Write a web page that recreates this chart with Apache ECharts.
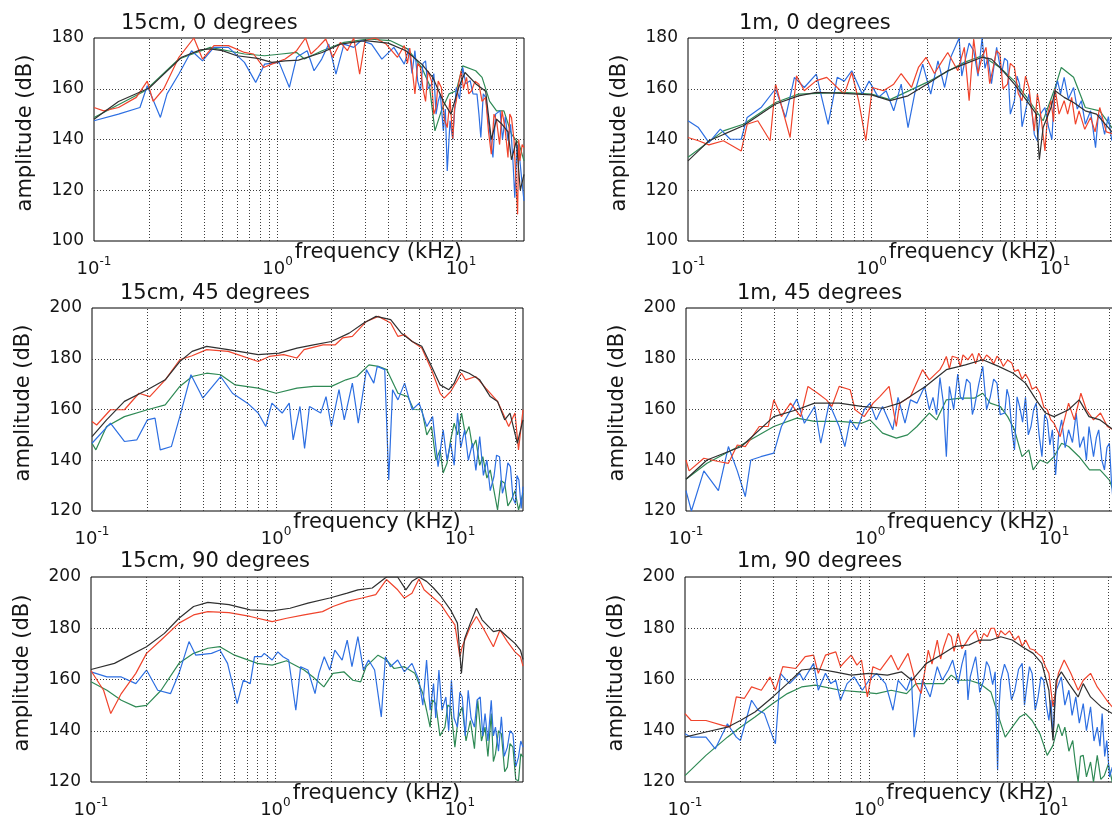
<!DOCTYPE html>
<html>
<head>
<meta charset="utf-8">
<title>Amplitude spectra</title>
<script src="https://cdn.jsdelivr.net/npm/echarts@6/dist/echarts.min.js"></script>
<style>
  html, body { margin: 0; padding: 0; background: #fff; }
  #chart { width: 1112px; height: 818px; }
</style>
</head>
<body>
<div id="chart"></div>
<script>
// ---- Data: [frequency (kHz), amplitude (dB)] ----
const panelTitles = ['15cm, 0 degrees', '1m, 0 degrees', '15cm, 45 degrees', '1m, 45 degrees', '15cm, 90 degrees', '1m, 90 degrees'];
const yMins = [100, 100, 120, 120, 120, 120];
const yMaxs = [180, 180, 200, 200, 200, 200];
const freqMin = 0.1;
const freqMax = 22;
const gridFreqs = [0.2, 0.3, 0.4, 0.5, 0.6, 0.7, 0.8, 0.9, 1, 2, 3, 4, 5, 6, 7, 8, 9, 10, 20];

// 15cm, 0 degrees
const p1Red = [[0.1,152.6],[0.113,151.3],[0.136,152.6],[0.17,156.6],[0.195,163],[0.21,155],[0.24,160],[0.29,172.4],[0.35,180],[0.39,171.7],[0.45,177],[0.54,177],[0.66,174.3],[0.74,173.7],[0.84,168.4],[0.93,169.7],[1.1,171.7],[1.27,175],[1.42,180],[1.52,173.7],[1.66,176.3],[1.83,179.6],[2.0,172.4],[2.2,178.3],[2.4,175],[2.6,180],[2.8,165.8],[3.0,179],[3.4,180],[3.9,177.6],[4.5,172.4],[4.9,177],[5.1,170],[5.25,176],[5.4,168.4],[5.6,158],[5.8,170],[6.0,168.4],[6.2,160],[6.4,155],[6.6,167],[6.9,163],[7.1,150],[7.3,152.6],[7.5,163],[7.8,160.5],[8.1,148],[8.4,144.7],[8.7,156],[9.0,140.1],[9.2,152],[9.4,155],[9.7,162],[10,167],[10.3,160],[10.7,164.5],[11,158],[11.4,159.2],[11.9,163],[12.5,161.8],[13,155],[13.6,156.6],[14.1,143],[14.6,134.2],[15.1,150],[15.6,147.4],[16.2,138],[16.7,151.3],[17.3,145],[18,132.9],[18.4,150],[18.8,148.7],[19.4,140],[20.3,110.5],[20.6,140],[20.9,131.6],[21.5,138],[22,136.8]];
const p1Blue = [[0.1,147.4],[0.136,150],[0.178,152.6],[0.195,161.2],[0.23,148.7],[0.25,158],[0.29,165.8],[0.34,175],[0.39,171],[0.45,176.3],[0.54,176.3],[0.66,170.4],[0.76,162.5],[0.85,169.7],[1.02,170.4],[1.16,160.5],[1.27,172.4],[1.45,175],[1.58,167.1],[1.74,171.7],[1.9,177.6],[2.08,165.8],[2.3,177.6],[2.6,176.3],[2.85,179],[3.25,177.6],[3.7,171.7],[4.3,176.3],[4.9,169.7],[5.2,176],[5.4,166],[5.6,175],[5.8,163],[6.0,159.2],[6.2,170],[6.4,171],[6.6,160],[6.9,161.8],[7.1,166],[7.3,150],[7.5,155],[7.7,158],[8.0,143.4],[8.2,152],[8.4,127.6],[8.7,147.4],[9.0,140],[9.4,160.5],[9.8,156],[10.2,168.4],[10.6,162],[11.2,163.2],[11.6,158],[12.2,157.9],[12.5,150],[12.8,140.8],[13.2,158],[13.6,156.6],[14.2,145],[14.9,132.9],[15.4,150],[16.3,151.3],[16.8,140],[17.4,149],[18,139.5],[18.6,146],[19.2,130],[19.6,117.1],[20.2,138],[20.9,131.6],[21.4,124],[22,115.8]];
const p1Green = [[0.1,148.7],[0.19,159.2],[0.29,171.7],[0.43,176.3],[0.66,173.7],[0.85,173],[1.05,173.7],[1.27,174.3],[1.4,171.7],[1.75,175],[2.3,178.3],[3.1,179.6],[4.1,179],[5.1,175.7],[6.1,168.4],[6.7,161.8],[7.2,143.4],[7.8,151.3],[8.6,158],[9.4,159.2],[10.2,169],[12,167.1],[13,164.5],[14.3,155],[15.6,151.3],[17.1,151.3],[18.8,142.1],[20.7,138.2],[22,131.6]];
const p1Black = [[0.1,148],[0.136,155],[0.2,160.3],[0.23,164.5],[0.3,172.4],[0.38,175.3],[0.43,175.7],[0.5,175],[0.6,173],[0.78,172],[0.93,170.4],[1.1,171],[1.3,171.3],[1.75,174.3],[2.2,177.6],[3.0,179],[4.0,178],[5.0,175],[6.1,169.7],[7.0,164.5],[8.0,155],[8.8,150],[9.7,160.5],[10.5,166.4],[12,162],[13.6,159],[14.6,140],[15.6,148],[16.7,146],[18,143],[18.8,132],[20,139.5],[21,120],[22,126.3]];

// 1m, 0 degrees
const p2Red = [[0.1,140.8],[0.114,139.5],[0.13,137.9],[0.156,139.5],[0.195,135.5],[0.21,146],[0.24,147.4],[0.28,139.5],[0.3,161.8],[0.36,140.8],[0.39,165.1],[0.43,159.2],[0.5,163.2],[0.57,164.5],[0.65,160.5],[0.71,157.9],[0.78,166.4],[0.85,155.3],[0.93,139.5],[1.01,160.5],[1.16,159.2],[1.32,161.8],[1.45,166],[1.65,160.5],[1.8,168.4],[1.98,172.4],[2.2,166],[2.4,170.4],[2.6,174.3],[2.95,167.1],[3.2,176.3],[3.4,155.3],[3.6,179.6],[3.8,166],[3.95,171],[4.2,176.3],[4.4,162],[4.6,168.4],[4.8,175],[5.0,173.7],[5.2,160],[5.5,161.8],[5.7,170],[6.0,168.4],[6.3,158],[6.6,155.3],[6.9,165],[7.2,160.5],[7.5,150],[7.7,143.4],[8.0,158],[8.2,154],[8.5,145],[8.8,135.5],[9.1,150],[9.5,155.3],[9.8,147],[10,159.9],[10.5,150],[11.2,155.3],[11.7,150],[12.3,156.6],[12.9,146],[13.5,151.3],[14.5,144],[15.6,148.7],[16.5,143],[17.5,152.6],[19,143],[21,142]];
const p2Blue = [[0.1,147.4],[0.114,144.7],[0.13,138.8],[0.15,144.1],[0.17,140.1],[0.195,140.1],[0.21,148.7],[0.25,152.6],[0.3,160],[0.34,148.7],[0.38,164.5],[0.43,160.5],[0.5,165.8],[0.54,155.3],[0.58,146],[0.65,164.5],[0.71,163],[0.78,167.1],[0.89,157.9],[0.97,163],[1.09,156.6],[1.2,159.2],[1.32,151.3],[1.45,161.8],[1.58,144.7],[1.73,159.2],[1.9,169.7],[2.1,157.9],[2.3,171],[2.5,160.5],[2.7,172.4],[3.0,180],[3.1,165],[3.2,169.7],[3.4,178],[3.6,175],[3.8,165],[4.0,180],[4.15,168],[4.3,172.4],[4.5,162],[4.8,176.3],[5.1,165.8],[5.3,172],[5.5,171],[5.7,150],[6.0,155.3],[6.2,165],[6.4,161.8],[6.6,145],[6.9,151.3],[7.2,158],[7.5,150],[7.7,142],[8.0,139.5],[8.3,150],[8.8,152.6],[9.2,145],[9.6,140],[9.9,158],[10.3,163.2],[10.7,158],[11.2,164.5],[11.8,156],[12.6,160.5],[13.2,152],[13.9,155.3],[14.6,146],[15.6,151.3],[16.6,136.8],[17.2,150],[17.8,148.7],[18.6,142],[19.5,149],[20.3,140],[21,138.2]];
const p2Green = [[0.1,133],[0.156,143.4],[0.2,146],[0.3,154.6],[0.4,157.9],[0.7,158.6],[1.0,157.9],[1.26,155.7],[2.0,162.5],[3.2,170.4],[4.0,173],[5.0,168.4],[6.0,163],[7.0,156.6],[8.6,147.4],[10,160.5],[10.8,168.4],[12.6,164.5],[14.6,152.6],[17.5,151.3],[21,143.4]];
const p2Black = [[0.1,131.6],[0.114,135.5],[0.13,139.5],[0.156,142],[0.2,145.4],[0.24,149.3],[0.3,154],[0.4,157.2],[0.5,158.6],[0.7,158.2],[1.0,157.6],[1.26,155.3],[1.58,157.2],[2.0,161.8],[2.6,167.1],[3.2,169.7],[4.0,172.4],[4.5,171.7],[5.0,168.4],[6.0,161.8],[7.0,155.3],[7.9,150],[8.2,132],[8.6,144.7],[9.5,152.6],[10,159.2],[11.2,156.6],[12.6,154.6],[14.6,151.3],[16.8,150],[21,142]];

// 15cm, 45 degrees
const p3Red = [[0.1,155.3],[0.106,153.9],[0.126,159.9],[0.15,159.9],[0.18,166.4],[0.206,165.1],[0.25,171.7],[0.3,179.6],[0.35,181.2],[0.42,183.6],[0.55,182.9],[0.8,178.9],[0.92,180.9],[1.1,181.6],[1.3,180.3],[1.42,183.6],[1.8,185.5],[2.1,185.5],[2.3,188.2],[2.6,188.8],[3.1,194.7],[3.6,196.7],[4.2,194.1],[4.6,188.8],[5.0,189.5],[5.5,186.8],[6.2,184.2],[7.0,175.7],[7.8,166.4],[8.2,164.5],[8.9,167.1],[10.2,174.3],[10.7,171.7],[12.2,173],[13.8,168.4],[16,163.2],[17.1,158.6],[18.4,153.3],[19.9,158.6],[20.8,144.1],[22,159.9]];
const p3Blue = [[0.1,146.7],[0.126,154.6],[0.15,147.4],[0.175,148],[0.2,155.9],[0.22,156.6],[0.235,144.1],[0.27,145.4],[0.3,157.2],[0.345,173.7],[0.4,164.5],[0.5,173],[0.58,166.4],[0.7,162.5],[0.8,158.6],[0.88,153.3],[0.95,162.5],[1.08,158.6],[1.18,162.5],[1.24,148],[1.35,161.2],[1.43,144.7],[1.52,161.2],[1.75,158.6],[1.87,165.1],[2.0,153.3],[2.2,167.8],[2.35,155.9],[2.6,170.4],[2.8,154.6],[3.1,175.7],[3.4,170.4],[3.55,177],[3.9,175.7],[4.1,132.2],[4.3,167.8],[4.6,163.8],[5.0,170.4],[5.5,159.9],[6.0,162.5],[6.6,153.3],[7.1,157.2],[7.6,137.5],[8.1,152],[8.5,140],[8.9,146.7],[9.3,138],[9.7,158.6],[10.1,145],[10.6,152],[11.1,140],[11.7,146.7],[12.2,136],[12.8,149.3],[13.4,134],[14,140.1],[14.6,128],[15.3,133.6],[15.8,142],[16.4,141.4],[17,127],[17.6,130.9],[18.2,139],[18.8,137.5],[19.4,125],[20,123],[20.4,134],[20.9,132.2],[21.5,121],[22,129.6]];
const p3Green = [[0.1,146.7],[0.105,144.1],[0.12,153.3],[0.15,157.2],[0.2,159.9],[0.25,161.8],[0.3,169.1],[0.35,173],[0.42,174.3],[0.5,173.7],[0.6,169.7],[0.8,168.4],[1.0,166.4],[1.3,168.4],[1.6,169.1],[2.0,169.1],[2.4,171.7],[2.75,173],[3.2,177.6],[3.6,177],[4.0,175.7],[4.6,166.4],[5.2,165.1],[5.6,160],[6.2,159.9],[6.6,150],[7.0,153.3],[7.4,140],[7.8,144.1],[8.1,135],[8.5,138.8],[8.9,148],[9.3,154.6],[9.7,150],[10.2,158.6],[10.7,150],[11.2,153.3],[11.7,145],[12.2,148],[12.8,138],[13.3,141.4],[14,133],[14.6,136.2],[15.3,128],[16,120.4],[16.7,132],[17.5,130.9],[18.2,122],[19,124.3],[19.9,128],[20.8,120.4],[22,127]];
const p3Black = [[0.1,149.3],[0.12,155.9],[0.15,163.2],[0.2,167.8],[0.25,171.7],[0.3,178.9],[0.35,182.9],[0.42,184.9],[0.55,183.6],[0.8,181.6],[1.04,182.2],[1.3,184.2],[1.6,185.5],[2.0,186.8],[2.5,190.1],[3.0,194.1],[3.5,196.7],[4.2,195.4],[4.8,190.1],[5.5,186.8],[6.2,184.9],[7.0,177],[7.8,169.7],[8.7,167.8],[9.3,170.4],[10,175.7],[11.2,174.3],[12.8,171.7],[14.6,165.1],[16,163.2],[17.5,155.9],[18.7,158.6],[20.5,146.7],[22,155.9]];

// 1m, 45 degrees
const p4Red = [[0.1,140.1],[0.104,135.8],[0.125,140.8],[0.15,139.5],[0.17,138.8],[0.19,146],[0.21,145.4],[0.25,153.3],[0.28,153.3],[0.3,163.8],[0.33,157.2],[0.37,162.5],[0.42,157.2],[0.46,169.1],[0.52,166.4],[0.58,163.8],[0.62,161.2],[0.68,169.1],[0.78,167.8],[0.83,159.9],[0.93,157.2],[1.04,162.5],[1.13,165.1],[1.27,169.1],[1.39,153.3],[1.45,162.5],[1.66,165.1],[1.93,175.7],[2.1,171.7],[2.4,175.7],[2.5,178],[2.6,180.9],[2.7,176],[2.8,181],[3.0,180.3],[3.1,177],[3.2,181.5],[3.4,179.6],[3.6,182],[3.75,178],[3.9,182.2],[4.1,179],[4.3,181.5],[4.5,180.3],[4.7,178],[4.9,181],[5.1,179.6],[5.3,177],[5.6,179.5],[5.9,178.3],[6.1,175],[6.4,175.7],[6.7,172],[7.0,174],[7.3,171.7],[7.6,168],[8.0,169],[8.4,166.4],[8.8,161],[9.2,159.9],[9.6,156],[10,154.6],[10.8,149.3],[12,162.5],[12.9,155.9],[14,166.4],[15,159.9],[16.4,155.9],[17.9,158.6],[19.5,153.3],[21,152]];
const p4Blue = [[0.1,128],[0.107,120],[0.125,135.8],[0.15,128],[0.17,145.4],[0.19,135.8],[0.21,125.7],[0.225,140.1],[0.255,141.4],[0.3,142.8],[0.33,153.3],[0.4,164.1],[0.44,154.6],[0.5,161.2],[0.54,146.7],[0.6,162.5],[0.68,153.3],[0.73,145.4],[0.78,155.9],[0.85,152],[0.93,159.9],[1.0,162.5],[1.08,155.9],[1.17,161.2],[1.33,152],[1.42,164.8],[1.55,154.6],[1.66,163.8],[1.8,162.5],[1.98,169.1],[2.1,160],[2.2,164.8],[2.3,158],[2.4,172.6],[2.5,163],[2.6,141.4],[2.7,169.1],[2.85,160],[3.0,174],[3.1,165],[3.2,163.8],[3.35,172],[3.5,170.4],[3.6,158],[3.7,161.2],[3.9,170],[4.1,177],[4.3,160],[4.5,164.8],[4.7,172],[4.9,170.4],[5.1,158],[5.4,158.6],[5.55,168],[5.7,164.8],[5.9,152],[6.1,144.1],[6.3,165],[6.5,161.2],[6.75,155],[7.0,164.8],[7.25,150],[7.5,153.3],[7.75,160],[8.0,162.5],[8.3,150],[8.6,141.4],[8.9,158],[9.2,155.9],[9.5,146],[9.8,152],[10.2,134.2],[10.6,150],[11,155.9],[11.5,145],[12,152],[12.6,147],[13.2,158.6],[13.8,145],[14.5,149.3],[15.0,140],[15.5,153.3],[16.4,141.4],[17,149],[17.5,152],[18.2,140],[18.8,136.2],[19.4,145],[20,146.7],[20.5,132],[21,123]];
const p4Green = [[0.1,132.5],[0.13,138.8],[0.2,146],[0.3,153.3],[0.4,156.6],[0.5,155.3],[0.68,155.3],[0.9,154.6],[1.0,155.9],[1.17,150.7],[1.39,148.7],[1.6,150],[1.8,153.3],[2.1,158.6],[2.3,155.9],[2.6,163.8],[3.1,164.5],[3.7,164.5],[4.1,166.4],[4.5,162.5],[5.1,161.2],[5.6,157.2],[6.1,152],[6.7,141.4],[7.3,144.1],[7.7,136.2],[8.4,140.1],[9.2,138.8],[10,141.4],[11,146.7],[12,145.4],[13.7,141.4],[15.6,136.2],[17.8,136.2],[20,132.2],[21,128]];
const p4Black = [[0.1,132.5],[0.13,140.1],[0.2,145.4],[0.3,157.2],[0.4,159.9],[0.5,162.5],[0.68,162.5],[0.9,161.2],[1.17,160.5],[1.45,162.5],[2.0,169.1],[2.6,175.7],[3.3,177.6],[4.1,179.6],[5.0,177],[6.0,174.3],[7.0,170.4],[8.0,163.8],[9.0,158.6],[10,157.2],[12,159.9],[13.7,163.8],[15.5,157.2],[17.8,155.9],[21,152]];

// 15cm, 90 degrees
const p5Red = [[0.1,163.4],[0.117,155.8],[0.128,146.7],[0.146,154.5],[0.175,162.4],[0.2,170.2],[0.24,175.4],[0.3,182],[0.36,185.2],[0.43,186.5],[0.56,186.1],[0.73,184.6],[0.96,182.6],[1.15,183.9],[1.43,185.2],[1.8,186.5],[2.05,188.5],[2.45,190.5],[2.95,191.8],[3.5,193.1],[4.0,199],[4.6,195],[5.0,191.8],[5.5,193.7],[6.0,199.2],[6.4,195],[7.2,191.8],[7.9,189.2],[8.6,185.2],[9.4,181.3],[10,168.9],[10.3,172.8],[11.4,180.7],[12.3,184.6],[13.4,180],[15.2,172.8],[16.5,179.3],[18.1,174.8],[19.9,170.8],[21.3,168.9],[22,165.2]];
const p5Blue = [[0.1,163],[0.122,161],[0.146,161],[0.175,158.4],[0.2,163.7],[0.23,155.8],[0.27,154.5],[0.3,162.4],[0.34,174.8],[0.37,169.5],[0.45,170.2],[0.5,171.5],[0.55,166.3],[0.62,150.6],[0.67,159.7],[0.73,158.4],[0.77,168.9],[0.84,168.9],[0.87,170.2],[0.96,167.6],[1.03,170.8],[1.1,168.9],[1.18,167.6],[1.29,148],[1.37,165],[1.5,163.7],[1.64,154.5],[1.72,162.4],[1.84,168.9],[1.97,163.7],[2.1,171.5],[2.3,167.6],[2.45,175.4],[2.6,165],[2.8,176.7],[3.0,163.7],[3.2,167.6],[3.45,163.7],[3.75,145.4],[3.95,168.9],[4.2,165],[4.6,167.6],[5.0,163],[5.5,166.3],[6.0,159.7],[6.3,150],[6.6,167.6],[6.9,148],[7.2,158.4],[7.4,145],[7.7,163.7],[8.0,148],[8.4,153.2],[8.7,140],[9.0,159.7],[9.3,145],[9.7,141.4],[10.0,155],[10.3,153.2],[10.7,138],[11.1,155.8],[11.5,145],[12,141.4],[12.4,152],[12.9,153.2],[13.3,138],[13.7,146.7],[14.2,136],[14.8,151.9],[15.2,138],[15.6,141.4],[16.2,132],[16.8,145.4],[17.4,130],[18.1,133.6],[18.7,140],[19.4,138.8],[20.1,126],[20.8,129.7],[21.4,136],[22,133.6]];
const p5Green = [[0.1,159.1],[0.122,155.8],[0.146,151.9],[0.175,149.3],[0.2,149.9],[0.24,155.8],[0.3,166.3],[0.36,170.2],[0.43,172.2],[0.5,172.8],[0.6,169.5],[0.8,166.3],[0.96,165.6],[1.15,167.3],[1.43,163.7],[1.6,161],[1.83,157.1],[2.05,162.4],[2.35,163],[2.63,159.7],[2.9,159.1],[3.1,165],[3.6,169.5],[4.0,167.6],[4.4,164.3],[5.0,165],[5.7,162.4],[6.3,154.5],[6.6,148],[6.9,141.4],[7.1,152],[7.4,150.6],[7.8,138],[8.3,141.4],[8.6,150],[8.9,149.3],[9.2,140],[9.4,133.6],[9.8,145],[10.3,149.3],[10.8,136],[11.4,144],[12,133],[12.5,151.9],[13.1,136],[13.7,141.4],[14.2,130],[14.8,146.7],[15.2,128],[15.6,131],[16.2,140],[16.8,138.8],[17.5,124],[18.1,125.8],[18.7,135],[19.4,133.6],[20.1,121],[20.8,120.5],[21.4,131],[22,129.7]];
const p5Black = [[0.1,163.9],[0.134,166.3],[0.2,172.8],[0.25,178],[0.3,183.9],[0.36,188.5],[0.43,190.1],[0.56,189.2],[0.73,187.2],[0.96,186.8],[1.2,187.8],[1.5,189.8],[1.97,191.8],[2.45,193.7],[2.8,195],[3.35,195.7],[4.0,200],[4.6,200],[5.1,195],[5.5,198.3],[6.0,200],[6.6,198.3],[7.2,195.7],[7.9,192.4],[8.9,187.2],[9.7,182],[10.2,162.4],[10.6,175.8],[11.4,182],[12.3,187.8],[13.2,183.3],[15.2,178.7],[16.5,179.3],[18.1,176.7],[19.9,174.1],[21.3,171.5],[22,167.8]];

// 1m, 90 degrees
const p6Red = [[0.1,146.7],[0.108,144],[0.13,144],[0.16,142.1],[0.176,141.4],[0.19,153.2],[0.21,152.6],[0.23,157.1],[0.26,155.8],[0.29,161],[0.31,155.8],[0.34,165],[0.4,164.3],[0.45,168.9],[0.5,169.5],[0.53,162.4],[0.58,169.5],[0.66,170.8],[0.7,165],[0.74,167],[0.8,169.5],[0.86,165.6],[0.91,167.6],[0.98,153.2],[1.05,165],[1.15,163.7],[1.32,169.5],[1.44,163.7],[1.63,170.2],[1.8,158.4],[1.92,154.5],[2.1,171.5],[2.2,166],[2.35,175.4],[2.45,168],[2.55,172.8],[2.7,178],[2.8,176.7],[2.9,171],[3.05,178],[3.2,172],[3.35,174.1],[3.55,177],[3.8,179.3],[4.0,174],[4.2,178],[4.4,176.7],[4.6,180],[4.8,180],[5.0,176],[5.2,179],[5.5,177.4],[5.8,179],[6.2,175.4],[6.5,177],[6.8,173],[7.1,175.4],[7.5,172],[7.9,171.5],[8.3,170],[8.7,168.9],[9.1,165],[9.5,162.4],[10,149.3],[10.7,162.4],[11.5,167.6],[12.5,162.4],[13.7,155.8],[14.6,159.7],[16,162.4],[17.4,157.1],[19.6,151.9],[21,149.3]];
const p6Blue = [[0.1,138.8],[0.108,137.5],[0.13,137.5],[0.146,132.9],[0.17,142.7],[0.19,137.5],[0.2,136.2],[0.23,151.9],[0.25,148],[0.27,146.7],[0.3,137.5],[0.31,134.9],[0.33,162.4],[0.37,158.4],[0.42,162.4],[0.44,159.7],[0.5,166.3],[0.53,155.8],[0.58,162.4],[0.62,158.4],[0.66,159.7],[0.7,151.9],[0.76,158.4],[0.83,161],[0.92,155.8],[1.0,159.7],[1.1,162.4],[1.23,158.4],[1.35,148],[1.44,159.7],[1.6,155.8],[1.7,161],[1.76,137.5],[1.95,159.7],[2.15,153.2],[2.35,165],[2.5,159.7],[2.7,163.7],[2.85,167.6],[3.05,158.4],[3.2,166],[3.35,171.5],[3.45,152],[3.55,161],[3.7,166],[3.8,168.9],[4.0,155],[4.2,159.7],[4.35,167],[4.5,165],[4.7,158],[4.85,163],[5.0,124.6],[5.1,150],[5.2,159.7],[5.45,166],[5.7,162.4],[5.95,152],[6.2,155.8],[6.5,164],[6.8,166.3],[7.0,150],[7.2,157.1],[7.45,165],[7.7,162.4],[8.0,148],[8.3,153.2],[8.6,161],[8.9,159.7],[9.2,150],[9.5,144],[9.75,152],[10,137.5],[10.2,150],[10.4,155.8],[10.7,158],[11.1,161],[11.6,150],[12.2,155.8],[12.7,146],[13.3,153.2],[13.9,143],[14.6,150.6],[15.2,140],[16,149.3],[16.7,136],[17.4,141.4],[18,134],[18.5,146.7],[19.1,130],[19.6,136.2],[20.3,122],[21,125.8]];
const p6Green = [[0.1,122.5],[0.13,130.4],[0.17,137.5],[0.2,141.4],[0.24,145.4],[0.3,150.6],[0.36,154.5],[0.43,157.1],[0.51,157.8],[0.7,155.8],[0.92,155.1],[1.1,154.5],[1.32,155.8],[1.6,154.5],[1.8,158.4],[2.15,158.4],[2.55,158.4],[2.8,161.7],[3.05,159.7],[3.5,159.7],[4.0,158.4],[4.6,155.1],[5.0,146.7],[5.5,137.5],[6.0,141.4],[6.6,145.4],[7.1,146.7],[7.7,144],[8.5,138.8],[9.3,130.4],[10,134.3],[10.7,142.7],[11.2,138],[11.6,141.4],[12.2,132],[12.8,136.2],[13.2,128],[13.7,120],[14.1,130],[14.6,130.4],[15.2,122],[16,127.8],[16.6,120],[17.4,130.4],[18.2,121],[19,122.5],[20,127],[21,120]];
const p6Black = [[0.1,137.5],[0.13,139.5],[0.17,141.4],[0.2,144],[0.24,147.3],[0.3,153.2],[0.36,158.4],[0.43,163.7],[0.51,164.3],[0.65,163],[0.8,161.7],[1.0,162.4],[1.26,161.7],[1.5,163],[1.71,159.7],[2.05,166.3],[2.45,169.5],[2.9,172.8],[3.5,173.5],[4.0,175.4],[4.6,175.4],[5.2,176.7],[6.0,175.4],[6.8,172.8],[7.8,170.2],[8.7,166.3],[9.5,155.8],[10,136.2],[10.4,159.7],[11.1,163],[12.2,158.4],[13.7,153.2],[14.6,158.4],[16,153.2],[18.3,149.3],[21,146.7]];

const panelSeries = [
  { red: p1Red, blue: p1Blue, green: p1Green, black: p1Black },
  { red: p2Red, blue: p2Blue, green: p2Green, black: p2Black },
  { red: p3Red, blue: p3Blue, green: p3Green, black: p3Black },
  { red: p4Red, blue: p4Blue, green: p4Green, black: p4Black },
  { red: p5Red, blue: p5Blue, green: p5Green, black: p5Black },
  { red: p6Red, blue: p6Blue, green: p6Green, black: p6Black }
];

// ---- Layout and styling ----
const FONT = 'DejaVu Sans';
const TEXT = '#151515';
const GRIDLINE = '#3c3c3c';
const COLORS = { green: '#2f8a55', blue: '#2d6fe2', red: '#f0442c', black: '#303030' };
const DRAW_ORDER = ['green', 'blue', 'red', 'black'];

const boxes = [
  { left: 94,  top: 38,  width: 430, height: 203 },
  { left: 688, top: 38,  width: 430, height: 203 },
  { left: 92,  top: 308, width: 431, height: 203 },
  { left: 686, top: 308, width: 431, height: 203 },
  { left: 91,  top: 577, width: 432, height: 205 },
  { left: 685, top: 577, width: 431, height: 205 }
];
const titlePos = [
  { left: 121, top: 13 }, { left: 739, top: 13 },
  { left: 120, top: 283 }, { left: 737, top: 283 },
  { left: 120, top: 551 }, { left: 737, top: 551 }
];

function decadeLabel(v) {
  const e = Math.log10(v);
  const r = Math.round(e);
  if (Math.abs(e - r) > 1e-6) return '';
  return '{b|10}{s|' + r + '}';
}

const grids = [], xAxes = [], yAxes = [], series = [], titles = [];

boxes.forEach((b, i) => {
  grids.push({
    left: b.left, top: b.top, width: b.width, height: b.height,
    show: true, borderColor: '#000', borderWidth: 1, backgroundColor: '#fff',
    containLabel: false, outerBoundsMode: 'none'
  });
  xAxes.push({
    type: 'log', logBase: 10, gridIndex: i, min: freqMin, max: freqMax,
    axisLine: { show: false }, axisTick: { show: false },
    splitLine: { show: false },
    axisLabel: {
      show: true, margin: 15, interval: 0, formatter: decadeLabel, hideOverlap: false,
      color: TEXT, fontFamily: FONT,
      rich: {
        b: { fontSize: 18, fontFamily: FONT, color: TEXT, lineHeight: 22, verticalAlign: 'bottom' },
        s: { fontSize: 12, fontFamily: FONT, color: TEXT, lineHeight: 6, verticalAlign: 'top' }
      }
    },
    name: 'frequency (kHz)', nameLocation: 'middle', nameGap: 1, nameMoveOverlap: false,
    nameTextStyle: { fontSize: 21, fontFamily: FONT, color: TEXT, padding: [0, 0, 0, 139] }
  });
  yAxes.push({
    type: 'value', gridIndex: i, min: yMins[i], max: yMaxs[i], interval: 20,
    axisLine: { show: false }, axisTick: { show: false },
    splitLine: { show: true, showMinLine: false, showMaxLine: false, lineStyle: { color: GRIDLINE, width: 1, type: [1, 2] } },
    axisLabel: { margin: 10, fontSize: 17, fontFamily: FONT, color: TEXT },
    name: 'amplitude (dB)', nameLocation: 'middle', nameGap: 58, nameRotate: 90, nameMoveOverlap: false,
    nameTextStyle: { fontSize: 21, fontFamily: FONT, color: TEXT, padding: [0, 0, 0, 13] }
  });
  // vertical log-decade gridlines
  series.push({
    type: 'line', xAxisIndex: i, yAxisIndex: i, data: [], z: 1, silent: true,
    markLine: {
      silent: true, animation: false, symbol: ['none', 'none'],
      label: { show: false },
      lineStyle: { color: GRIDLINE, width: 1, type: [1, 2] },
      emphasis: { disabled: true },
      data: gridFreqs.map(f => ({ xAxis: f }))
    }
  });
  DRAW_ORDER.forEach((key, k) => {
    series.push({
      type: 'line', xAxisIndex: i, yAxisIndex: i,
      data: panelSeries[i][key],
      symbol: 'none', showSymbol: false, silent: true, clip: true,
      lineStyle: { color: COLORS[key], width: 1.2 },
      z: 2 + k
    });
  });
  titles.push({
    text: panelTitles[i], left: titlePos[i].left, top: titlePos[i].top, padding: 0,
    textStyle: { fontSize: 21, fontFamily: FONT, fontWeight: 'normal', color: TEXT }
  });
});

const chart = echarts.init(document.getElementById('chart'), null, { renderer: 'canvas' });
chart.setOption({
  backgroundColor: '#fff',
  animation: false,
  title: titles,
  grid: grids,
  xAxis: xAxes,
  yAxis: yAxes,
  series: series
});
</script>
</body>
</html>
